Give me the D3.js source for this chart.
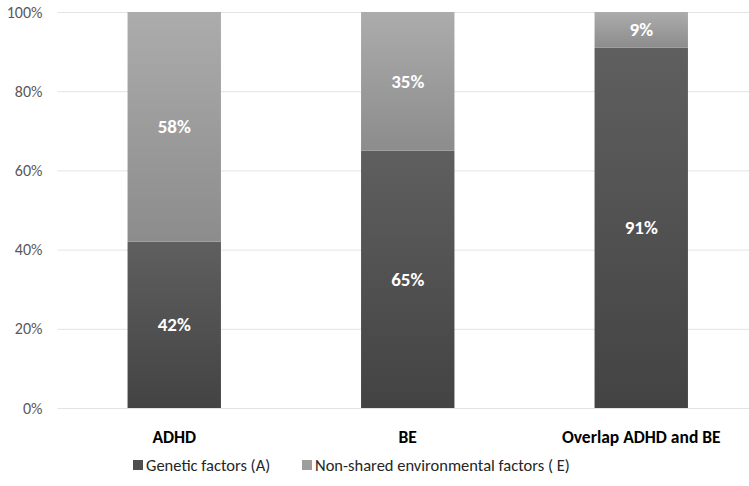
<!DOCTYPE html>
<html>
<head>
<meta charset="utf-8">
<script src="https://cdn.jsdelivr.net/npm/d3@7"></script>
<style>
  html, body { margin: 0; padding: 0; background: #fff; }
  svg { display: block; font-family: Calibri, Carlito, Lato, "Open Sans", sans-serif; }
</style>
</head>
<body>
<svg id="chart" width="749" height="486"></svg>
<script>
// Share of variance explained per trait
const categories = ["ADHD", "BE", "Overlap ADHD and BE"];
const genetic = [42, 65, 91];        // Genetic factors (A)
const environmental = [58, 35, 9];   // Non-shared environmental factors (E)
const seriesNames = ["Genetic factors (A)", "Non-shared environmental factors ( E)"];
const yTicks = [0, 20, 40, 60, 80, 100];

const svg = d3.select("#chart");
const W = 749, H = 486;
const plot = { left: 57.5, right: 758, top: 12, bottom: 408 };

const x = d3.scaleBand().domain(categories).range([plot.left, plot.right]).paddingInner(0.6).paddingOuter(0.3);
const y = d3.scaleLinear().domain([0, 100]).range([plot.bottom, plot.top]);

// Vertical gradients for the two series
const defs = svg.append("defs");
const grads = [
  { id: "gA", top: "#5f5f5f", bottom: "#434343" },
  { id: "gE", top: "#acacac", bottom: "#8c8c8c" }
];
grads.forEach(g => {
  const lg = defs.append("linearGradient").attr("id", g.id).attr("x1", 0).attr("y1", 0).attr("x2", 0).attr("y2", 1);
  lg.append("stop").attr("offset", "0%").attr("stop-color", g.top);
  lg.append("stop").attr("offset", "100%").attr("stop-color", g.bottom);
});

// Gridlines and y-axis labels
const yAxis = d3.axisLeft(y).tickValues(yTicks).tickSize(-(W - plot.left)).tickFormat(d => d + "%");
const ya = svg.append("g").attr("transform", `translate(${plot.left},0)`).call(yAxis);
ya.select(".domain").remove();
ya.selectAll(".tick line").attr("stroke", "#e3e3e3").attr("stroke-width", 1);
ya.selectAll(".tick text").attr("x", -15).attr("fill", "#595959").style("font-size", "16px")
  .style("font-family", "Calibri, Carlito, Lato, 'Open Sans', sans-serif");

// Stacked data
const rows = categories.map((c, i) => ({ cat: c, A: genetic[i], E: environmental[i] }));
const stack = d3.stack().keys(["A", "E"])(rows);
const fills = { A: "url(#gA)", E: "url(#gE)" };

const layers = svg.append("g").selectAll("g").data(stack).join("g");
layers.selectAll("rect").data(d => d.map(s => ({ key: d.key, s }))).join("rect")
  .attr("x", d => x(d.s.data.cat))
  .attr("width", x.bandwidth())
  .attr("y", d => y(d.s[1]))
  .attr("height", d => y(d.s[0]) - y(d.s[1]))
  .attr("fill", d => fills[d.key]);

// Value labels
layers.selectAll("text").data(d => d.map(s => ({ key: d.key, s }))).join("text")
  .attr("x", d => x(d.s.data.cat) + x.bandwidth() / 2)
  .attr("y", d => y((d.s[0] + d.s[1]) / 2))
  .attr("dy", "0.35em")
  .attr("text-anchor", "middle")
  .attr("fill", "#ffffff")
  .style("font-size", "19px")
  .style("font-weight", "bold")
  .text(d => (d.s[1] - d.s[0]) + "%");

// Category labels
svg.append("g").selectAll("text").data(categories).join("text")
  .attr("x", d => x(d) + x.bandwidth() / 2)
  .attr("y", 437)
  .attr("dy", "0.35em")
  .attr("text-anchor", "middle")
  .attr("fill", "#000")
  .style("font-size", "17.5px")
  .style("font-weight", "bold")
  .text(d => d);

// Legend
const legendX = [133, 302];
const legend = svg.append("g").selectAll("g").data(seriesNames).join("g")
  .attr("transform", (d, i) => `translate(${legendX[i]},465)`);
legend.append("rect").attr("x", 0).attr("y", -5).attr("width", 10).attr("height", 10)
  .attr("fill", (d, i) => i === 0 ? "#4f4f4f" : "#9e9e9e");
legend.append("text").attr("x", 13).attr("dy", "0.35em")
  .attr("fill", "#262626").style("font-size", "16.5px").text(d => d);
</script>
</body>
</html>
